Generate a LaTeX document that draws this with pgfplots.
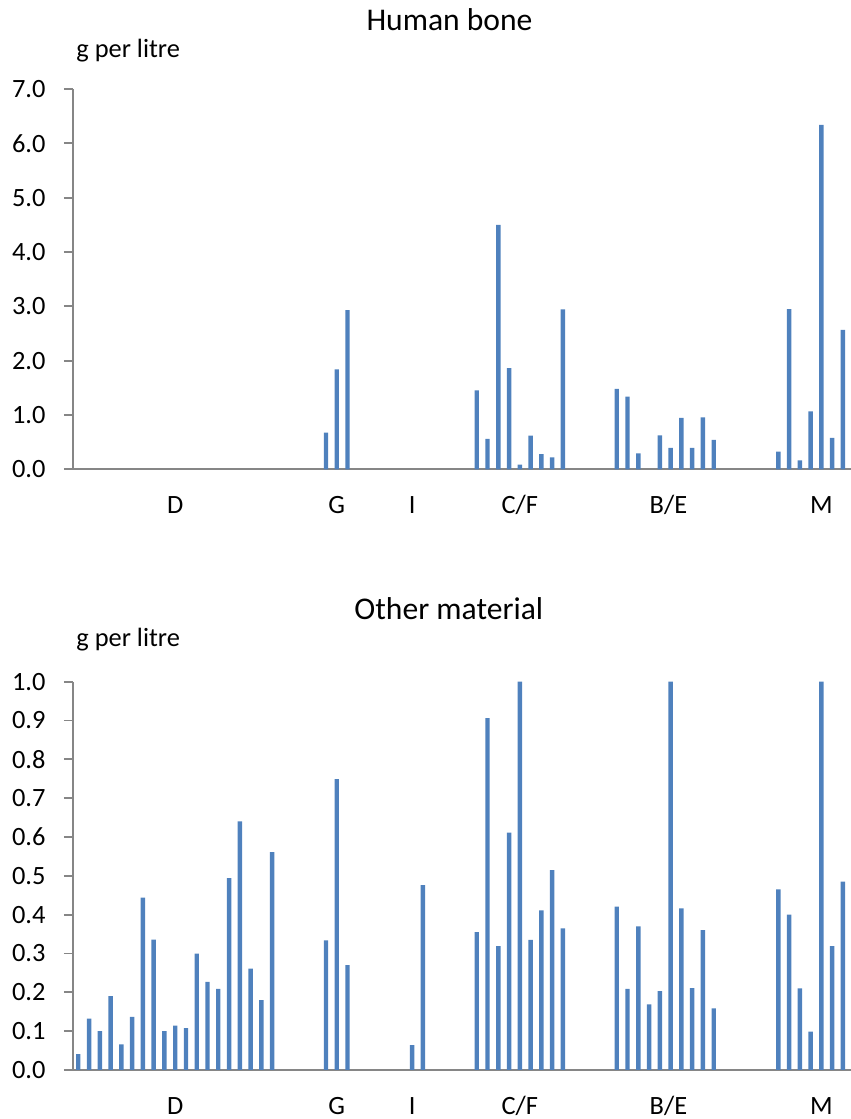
\documentclass[border=0pt]{standalone}
\usepackage{pgfplots}
\pgfplotsset{compat=1.18}
\usepackage{fontspec}
\setmainfont{Carlito}
\definecolor{barblue}{HTML}{4F81BD}
\definecolor{axgray}{HTML}{868686}

\pgfplotstableread{
x y
23 0.675
24 1.84
25 2.93
37 1.454
38 0.558
39 4.50
40 1.86
41 0.086
42 0.62
43 0.28
44 0.22
45 2.945
50 1.48
51 1.337
52 0.294
54 0.626
55 0.393
56 0.945
57 0.393
58 0.957
59 0.54
65 0.325
66 2.95
67 0.166
68 1.067
69 6.34
70 0.577
71 2.564
}\bonedata

\pgfplotstableread{
x y
0 0.041
1 0.132
2 0.100
3 0.190
4 0.066
5 0.137
6 0.444
7 0.336
8 0.100
9 0.114
10 0.108
11 0.300
12 0.227
13 0.209
14 0.494
15 0.640
16 0.261
17 0.180
18 0.561
23 0.334
24 0.749
25 0.270
31 0.064
32 0.476
37 0.355
38 0.906
39 0.319
40 0.611
41 1.000
42 0.335
43 0.411
44 0.515
45 0.365
50 0.421
51 0.209
52 0.370
53 0.169
54 0.203
55 1.000
56 0.416
57 0.211
58 0.360
59 0.159
65 0.465
66 0.400
67 0.210
68 0.099
69 1.000
70 0.319
71 0.485
}\otherdata

\pgfplotsset{
  panel/.style={
    scale only axis,
    width=389.05pt,
    xmin=-0.5, xmax=71.75,
    ymin=0,
    axis x line*=bottom,
    axis y line*=left,
    axis line style={axgray, line width=0.9pt},
    tick align=outside,
    major tick length=4.5pt,
    y tick style={axgray, line width=0.9pt},
    x tick style={draw=none},
    xtick={9,24,31,41,54.8,69},
    xticklabels={D,G,I,C/F,B/E,M},
    xticklabel style={anchor=base, yshift=-17.5pt},
    yticklabel style={anchor=east, inner sep=0pt, xshift=-9pt},
    tick label style={font=\fontsize{13.2}{15}\selectfont},
    /pgf/number format/assume math mode=true,
    yticklabel={\pgfmathprintnumber[fixed, fixed zerofill, precision=1]{\tick}},
    ytick pos=left,
    clip=true,
  }
}

\begin{document}
\begin{tikzpicture}
\path[use as bounding box] (0,0) rectangle (425.5pt,559.5pt);

\begin{axis}[panel,
  at={(36.45pt,324.85pt)}, anchor=south west,
  height=190.15pt, ymax=7, ytick={0,1,...,7}]
\addplot[ybar, bar width=2.2pt, fill=barblue, draw=none] table[x=x,y=y] {\bonedata};
\end{axis}

\begin{axis}[panel,
  at={(36.45pt,24.5pt)}, anchor=south west,
  height=194.15pt, ymax=1, ytick={0,0.1,...,1.0}]
\addplot[ybar, bar width=2.2pt, fill=barblue, draw=none] table[x=x,y=y] {\otherdata};
\end{axis}

\node[anchor=base, inner sep=0pt, font=\fontsize{15.8}{18}\selectfont] at (224.75pt,544.15pt) {Human bone};
\node[anchor=base, inner sep=0pt, font=\fontsize{15.8}{18}\selectfont] at (224.4pt,249.5pt) {Other material};
\node[anchor=base west, inner sep=0pt, font=\fontsize{13.2}{15}\selectfont] at (38pt,530.85pt) {g per litre};
\node[anchor=base west, inner sep=0pt, font=\fontsize{13.2}{15}\selectfont] at (38pt,236.15pt) {g per litre};
\end{tikzpicture}
\end{document}
